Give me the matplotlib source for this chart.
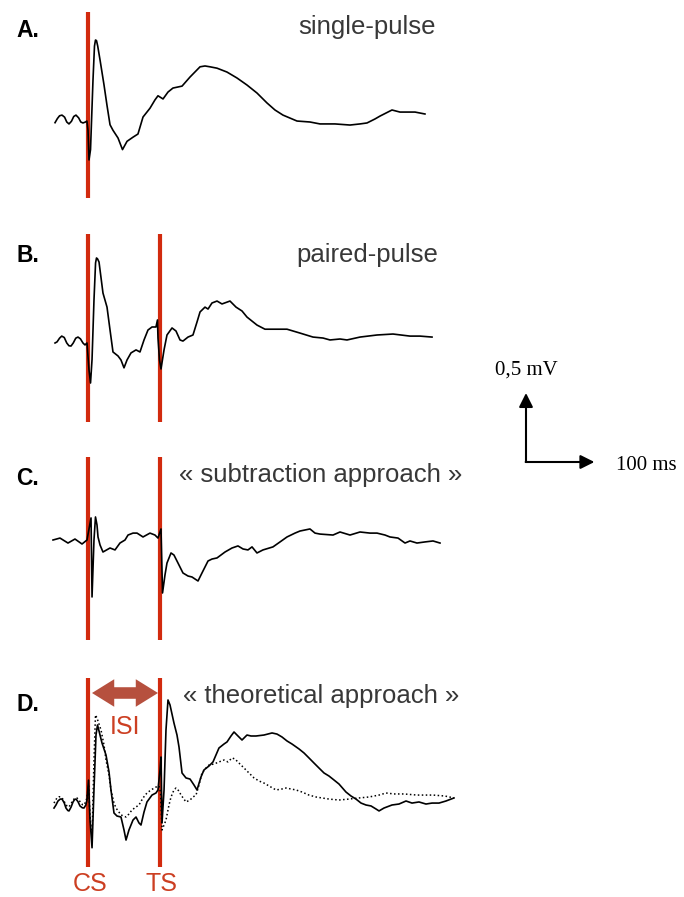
import matplotlib
matplotlib.use("Agg")
import matplotlib.pyplot as plt
import numpy as np
from matplotlib.patches import FancyArrowPatch

# ---- data: traces (time in ms from CS, amplitude in mV) ----
a_t = [-45.8, -42.5, -39.5, -36.1, -32.5, -29.5, -26.4, -23, -19.8, -16.7, -13, -10, -7, -3.5,
       -1.5, 0, 1.4, 3.5, 6.9, 9, 10.4, 11.8, 13.5, 16.7, 22.2, 26.4,
       30.6, 34.7, 41.7, 47.9, 54.2, 62.5, 69.4, 76.4, 86.1, 93, 97.2, 104.2, 111.1, 118, 130.6,
       141.7, 155.6, 162.5, 169.4, 179.2, 193, 206.9, 220.8, 234.7, 248.6, 259.7, 270.8, 290.3,
       308.3, 322.2, 343, 363.9, 377.8, 387.5, 398.6, 405.6, 422.2, 433.3, 443, 454.2, 468]
a_v = [-0.005, 0.025, 0.045, 0.05, 0.035, 0.0, -0.014, 0.005, 0.04, 0.05, 0.03, 0.0, -0.007, 0.0,
       0.007, -0.06, -0.275, -0.20, 0.30, 0.55, 0.594, 0.59, 0.55, 0.45,
       0.27, 0.12, -0.02, -0.06, -0.116, -0.20, -0.14, -0.11, -0.087, 0.036, 0.10, 0.16, 0.19,
       0.167, 0.217, 0.246, 0.26, 0.326, 0.40, 0.406, 0.40, 0.39, 0.362, 0.319, 0.268, 0.21,
       0.138, 0.087, 0.05, 0.007, 0, -0.014, -0.014, -0.022, -0.014, -0.007, 0.022, 0.043,
       0.087, 0.072, 0.072, 0.072, 0.058]

b_t = [-45.8, -43, -39.5, -36.5, -33, -29.5, -26.5, -23.6, -20.5, -17, -13.9, -10.5, -7, -4.2,
       -1.4, 1.4, 3.5, 5.6, 8.3, 10.5, 11.8, 13.2, 15.3, 20.8, 26.4, 30.6,
       34.7, 41.7, 45.8, 50, 54.2, 59.7, 66.7, 72.2, 77.8, 83.3, 88.9, 94.4, 96.5, 97.2, 99.3,
       101.4, 105.6, 109.7, 116.7, 122.2, 127.8, 131.9, 138.9, 145.8, 151.4, 155.6, 162.5, 166.7,
       172.2, 179.2, 186.1, 197.2, 205.6, 213.9, 220.8, 234.7, 245.8, 259.7, 276.4, 294.4, 312.5,
       326.4, 336.1, 350, 359.7, 377.8, 401.4, 423.6, 447.2, 461.1, 477.8]
b_v = [0.0, 0.008, 0.035, 0.05, 0.04, 0.0, -0.02, -0.022, 0.0, 0.035, 0.043, 0.03, 0.0, -0.014,
       0, -0.196, -0.29, -0.12, 0.31, 0.58, 0.616, 0.61, 0.587, 0.362,
       0.26, 0.094, -0.065, -0.094, -0.123, -0.18, -0.123, -0.072, -0.05, -0.065, 0.022, 0.094,
       0.116, 0.116, 0.167, 0.036, -0.123, -0.188, -0.05, 0.058, 0.109, 0.087, 0.022, 0.014,
       0.043, 0.058, 0.152, 0.225, 0.26, 0.246, 0.29, 0.304, 0.283, 0.304, 0.26, 0.232, 0.188,
       0.13, 0.10, 0.10, 0.10, 0.072, 0.043, 0.036, 0.022, 0.029, 0.022, 0.043, 0.058, 0.065,
       0.05, 0.05, 0.043]

c_t = [-48.6, -38.9, -27.8, -18.1, -8.3, -1.4, 4.2, 5.6, 8.3, 10.4, 12.5, 13.9, 16.7, 20.8, 30.6,
       37.5, 44.4, 51.4, 55.6, 62.5, 68.1, 76.4, 86.1, 93, 97.2, 101.4, 103.5, 106.9, 109.7, 115.3,
       119.4, 125, 131.9, 138.9, 144.4, 152.8, 158.3, 166.7, 172.2, 179.2, 190.3, 200, 208.3,
       215.3, 222.2, 227.8, 234.7, 243, 256.9, 266.7, 276.4, 287.5, 294.4, 308.3, 315.3, 322.2,
       340.3, 350, 363.9, 377.8, 391.7, 401.4, 412.5, 419.4, 430.6, 440.3, 447.2, 456.9, 468,
       479.2, 488.9]
c_v = [0, 0.014, -0.022, 0.007, -0.029, 0, 0.16, -0.413, 0, 0.167, 0.109, 0.022, -0.036, -0.087,
       -0.058, -0.072, -0.022, 0, 0.036, 0.05, 0.05, 0.022, 0.05, 0.036, 0.014, 0.08, -0.384,
       -0.254, -0.167, -0.094, -0.109, -0.167, -0.239, -0.261, -0.268, -0.297, -0.239, -0.152,
       -0.138, -0.13, -0.087, -0.058, -0.043, -0.065, -0.072, -0.05, -0.094, -0.072, -0.05,
       -0.014, 0.022, 0.05, 0.065, 0.08, 0.05, 0.043, 0.036, 0.058, 0.036, 0.058, 0.05, 0.05,
       0.036, 0.022, 0.014, -0.022, -0.007, -0.022, -0.014, -0.007, -0.022]

# D: measured paired-pulse response (solid)
d_t = [-47.2, -44.5, -41.7, -38.5, -36.1, -33, -30.6, -28, -26.4, -23.5, -20.8, -18.5, -16.7,
       -14, -11.1, -8, -5.6, -3, -1.4, 0.7, 2.8, 5.6, 8.3,
       11.1, 13.2, 16.7, 19.4, 25, 29.2, 31.9, 36.1, 40.3, 45.8, 50, 52.8, 56.9, 62.5, 66.7, 70.8,
       73.6, 77.8, 81.9, 88.9, 94.4, 97.2, 100, 101.4, 102.8, 105.6, 108.3, 111.1, 113.9, 119.4,
       123.6, 126.4, 130.6, 136.1, 141.7, 147.2, 151.4, 156.9, 161.1, 168.1, 173.6, 181.9, 188.9,
       193.1, 198.6, 202.8, 208.3, 213.9, 220.8, 226.4, 233.3, 244.4, 255.6, 262.5, 269.4, 276.4,
       283.3, 293.1, 300, 306.9, 313.9, 320.8, 327.8, 334.7, 341.7, 348.6, 358.3, 365.3, 372.2,
       379.2, 386.1, 393.1, 400, 404.2, 411.1, 422.2, 431.9, 441.7, 450, 459.7, 469.4, 477.8,
       487.5, 497.2, 508.3]
d_v = [-0.022, 0.0, 0.029, 0.043, 0.043, 0.015, -0.022, -0.04, -0.043, -0.015, 0.022, 0.04,
       0.043, 0.025, -0.007, -0.02, -0.022, 0.0, 0.036, 0.18, -0.109,
       -0.31, 0.109, 0.507, 0.58, 0.507, 0.45, 0.362, 0.239, 0.109, -0.058, -0.08, -0.087, -0.181,
       -0.254, -0.181, -0.109, -0.087, -0.13, -0.145, -0.051, 0.022, 0.072, 0.087, 0.109, 0.254,
       0.348, -0.13, 0.109, 0.543, 0.761, 0.725, 0.594, 0.507, 0.42, 0.232, 0.196, 0.188, 0.145,
       0.109, 0.203, 0.254, 0.283, 0.312, 0.413, 0.442, 0.457, 0.5, 0.529, 0.5, 0.471, 0.507, 0.5,
       0.5, 0.507, 0.522, 0.514, 0.493, 0.464, 0.442, 0.406, 0.377, 0.341, 0.304, 0.268, 0.232,
       0.21, 0.181, 0.152, 0.094, 0.065, 0.043, 0.014, 0, -0.007, -0.029, -0.043, -0.022, 0,
       0.007, 0.029, 0.014, 0.022, 0.007, 0.014, 0.014, 0.029, 0.051]

# D: theoretical sum (dotted)
e_t = [-47.2, -45, -43.1, -40, -37.5, -34.5, -31.9, -29, -26.4, -23.5, -20.8, -18, -15.3, -12.5,
       -9.7, -7.5, -5.6, -3.5, -1.4, 0.7, 2.8, 5.6, 8.3,
       10.4, 12.5, 18.1, 22.2, 25, 29.2, 31.9, 36.1, 38.9, 45.8, 52.8, 56.9, 61.1, 66.7, 70.8,
       76.4, 81.9, 87.5, 94.4, 98.6, 100.7, 102.8, 105.6, 108.3, 112.5, 115.3, 119.4, 122.2, 126.4,
       129.2, 136.1, 141.7, 145.8, 150, 154.2, 158.3, 163.9, 168.1, 175, 181.9, 188.9, 194.4, 200,
       204.2, 209.7, 216.7, 223.6, 230.6, 237.5, 244.4, 251.4, 261.1, 269.4, 275, 281.9, 288.9,
       297.2, 306.9, 316.7, 325, 334.7, 348.6, 362.5, 376.4, 390.3, 404.2, 413.9, 425, 438.9,
       456.9, 468.1, 479.2, 495.8, 508.3]
e_v = [0.014, 0.035, 0.051, 0.06, 0.058, 0.04, 0.014, -0.008, -0.014, 0.01, 0.036, 0.05, 0.051,
       0.035, 0.014, 0.002, 0, 0.02, 0.051, 0.145, -0.072, -0.232,
       0.326, 0.652, 0.63, 0.543, 0.435, 0.326, 0.217, 0.109, 0.014, -0.022, -0.072, -0.087,
       -0.065, -0.036, -0.014, 0, 0.051, 0.087, 0.109, 0.13, 0.138, 0.094, -0.181, -0.145, -0.109,
       0, 0.058, 0.109, 0.123, 0.101, 0.072, 0.022, 0.036, 0.058, 0.072, 0.145, 0.232, 0.268,
       0.29, 0.297, 0.312, 0.326, 0.312, 0.341, 0.333, 0.304, 0.268, 0.232, 0.196, 0.174, 0.159,
       0.138, 0.109, 0.116, 0.123, 0.116, 0.109, 0.094, 0.072, 0.058, 0.051, 0.043, 0.036, 0.043,
       0.051, 0.058, 0.072, 0.087, 0.08, 0.08, 0.072, 0.072, 0.072, 0.065, 0.051]

ISI_MS = 100
SCALE_MS = 100
SCALE_MV = 0.5

# ---- layout (pixels of the 684x897 canvas) ----
W, H = 684, 897
PX_PER_MS = 0.72
PX_PER_MV = 138.0
CS_PX = 88
RED = "#d22a0e"
LABEL_RED = "#cc3f22"
ARROW_RED = "#b6503e"

fig = plt.figure(figsize=(W / 100, H / 100), dpi=100)
ax = fig.add_axes([0, 0, 1, 1])
ax.set_xlim(-CS_PX / PX_PER_MS, (W - CS_PX) / PX_PER_MS)
ax.set_ylim(-H / PX_PER_MV, 0)
ax.axis("off")


def ypx(p):
    return -p / PX_PER_MV


def xpx(p):
    return (p - CS_PX) / PX_PER_MS


def ftext(x, y, s, **kw):
    fig.text(x / W, 1 - y / H, s, **kw)


# panel baselines (px) and red-line extents (px)
panels = [
    ("A.", 122, (12, 198), False, "single-pulse", 436, 34, "right"),
    ("B.", 343, (234, 422), True, "paired-pulse", 438, 262, "right"),
    ("C.", 540, (457, 640), True, "« subtraction approach »", 179, 482, "left"),
    ("D.", 805, (678, 867), True, "« theoretical approach »", 183, 703, "left"),
]
traces = {"A.": [(a_t, a_v, "-")], "B.": [(b_t, b_v, "-")], "C.": [(c_t, c_v, "-")],
          "D.": [(e_t, e_v, ":"), (d_t, d_v, "-")]}
label_y = {"A.": 37, "B.": 262, "C.": 485, "D.": 711}

for lab, base, (top, bot), paired, title, tx, ty, ha in panels:
    off = ypx(base)
    stims = [0, ISI_MS] if paired else [0]
    for s in stims:
        ax.plot([s, s], [ypx(top), ypx(bot)], color=RED, lw=3.0, solid_capstyle="butt", zorder=1)
    for t, v, ls in traces[lab]:
        t = np.asarray(t)
        v = np.asarray(v) + off
        if ls == ":":
            ax.plot(t, v, color="black", lw=1.1, linestyle=(0, (1, 1.6)), zorder=2)
        else:
            ax.plot(t, v, color="black", lw=1.2, solid_joinstyle="round", zorder=3)
    ftext(16, label_y[lab], lab, fontsize=16.5, fontweight="bold", family="Liberation Sans",
          va="baseline", ha="left")
    ftext(tx, ty, title, fontsize=18.5, family="Liberation Sans", color="#383838",
          va="baseline", ha=ha)

# ISI double arrow
y_isi = ypx(693)
mid = ISI_MS / 2
for end in (xpx(92), xpx(158)):
    ax.add_patch(FancyArrowPatch((mid, y_isi), (end, y_isi),
                                 arrowstyle="simple,head_length=0.5,head_width=0.62,tail_width=0.26",
                                 mutation_scale=32, color=ARROW_RED, lw=0,
                                 shrinkA=0, shrinkB=0, zorder=4))
ftext(125, 734, "ISI", fontsize=18, family="Liberation Sans", color=LABEL_RED,
      ha="center", va="baseline")
ftext(90, 891, "CS", fontsize=18, family="Liberation Sans", color=LABEL_RED,
      ha="center", va="baseline")
ftext(161, 891, "TS", fontsize=18, family="Liberation Sans", color=LABEL_RED,
      ha="center", va="baseline")

# scale bar
x0, y0 = xpx(526), ypx(462)
ax.annotate("", xy=(x0, y0 + SCALE_MV), xytext=(x0, y0),
            arrowprops=dict(arrowstyle="-|>,head_length=0.6,head_width=0.3", lw=1.5,
                            color="black", shrinkA=0, shrinkB=0, mutation_scale=14))
ax.annotate("", xy=(x0 + SCALE_MS * 0.95, y0), xytext=(x0 - 0.5, y0),
            arrowprops=dict(arrowstyle="-|>,head_length=0.6,head_width=0.3", lw=1.5,
                            color="black", shrinkA=0, shrinkB=0, mutation_scale=14))
ftext(495, 375, "0,5 mV", fontsize=15, family="Liberation Serif", va="baseline", ha="left")
ftext(616, 470, "100 ms", fontsize=15, family="Liberation Serif", va="baseline", ha="left")

fig.savefig("out.png", dpi=100)
